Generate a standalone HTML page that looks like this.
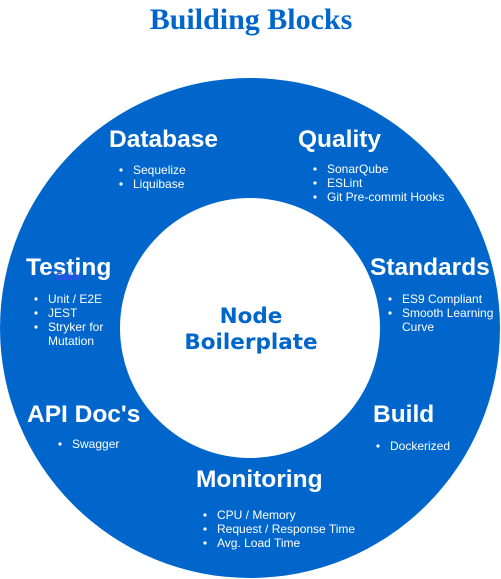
<!DOCTYPE html>
<html><head><meta charset="utf-8"><style>
html,body{margin:0;padding:0;background:#fff;}
svg{display:block;}
.h{font-family:"Liberation Sans",Arial,sans-serif;font-weight:bold;font-size:24.5px;fill:#fff;}
.b{font-family:"Liberation Sans",Arial,sans-serif;font-size:12px;fill:#fff;}
.n{font-family:"DejaVu Sans","Liberation Sans",sans-serif;font-weight:bold;font-size:21.5px;fill:#0066cc;}
</style></head><body>
<svg width="501" height="579" viewBox="0 0 501 579" xmlns="http://www.w3.org/2000/svg">
<text x="251" y="29" text-anchor="middle" font-family="Liberation Serif,serif" font-weight="bold" font-size="30" fill="#0066cc">Building Blocks</text>
<circle cx="250" cy="328" r="250" fill="#0066cc"/>
<circle cx="250" cy="328" r="130" fill="#fff"/>
<text class="h" x="109" y="147">Database</text>
<g class="b"><circle cx="121" cy="170" r="1.6" fill="#fff"/><text x="133" y="174">Sequelize</text>
<circle cx="121" cy="184" r="1.6" fill="#fff"/><text x="133" y="188">Liquibase</text></g>
<text class="h" x="298" y="147">Quality</text>
<g class="b"><circle cx="315" cy="169" r="1.6" fill="#fff"/><text x="327" y="173">SonarQube</text>
<circle cx="315" cy="183" r="1.6" fill="#fff"/><text x="327" y="187">ESLint</text>
<circle cx="315" cy="197" r="1.6" fill="#fff"/><text x="327" y="201">Git Pre-commit Hooks</text></g>
<text class="h" x="26" y="275">Testing</text>
<text x="56" y="280" font-family="Liberation Sans,sans-serif" font-weight="bold" font-size="10" fill="#3a4cf0">Build</text>
<g class="b"><circle cx="36" cy="299" r="1.6" fill="#fff"/><text x="48" y="303">Unit / E2E</text>
<circle cx="36" cy="313" r="1.6" fill="#fff"/><text x="48" y="317">JEST</text>
<circle cx="36" cy="327" r="1.6" fill="#fff"/><text x="48" y="331">Stryker for</text>
<text x="48" y="345">Mutation</text></g>
<text class="h" x="370" y="275">Standards</text>
<g class="b"><circle cx="390" cy="299" r="1.6" fill="#fff"/><text x="402" y="303">ES9 Compliant</text>
<circle cx="390" cy="313" r="1.6" fill="#fff"/><text x="402" y="317">Smooth Learning</text>
<text x="402" y="331">Curve</text></g>
<text class="n" x="251" y="323" text-anchor="middle">Node</text>
<text class="n" x="251" y="349" text-anchor="middle">Boilerplate</text>
<text class="h" x="27" y="422">API Doc's</text>
<g class="b"><circle cx="60" cy="444" r="1.6" fill="#fff"/><text x="72" y="448">Swagger</text></g>
<text class="h" x="373" y="422">Build</text>
<g class="b"><circle cx="378" cy="446" r="1.6" fill="#fff"/><text x="390" y="450">Dockerized</text></g>
<text class="h" x="196" y="487">Monitoring</text>
<g class="b"><circle cx="205" cy="515" r="1.6" fill="#fff"/><text x="217" y="519">CPU / Memory</text>
<circle cx="205" cy="529" r="1.6" fill="#fff"/><text x="217" y="533">Request / Response Time</text>
<circle cx="205" cy="543" r="1.6" fill="#fff"/><text x="217" y="547">Avg. Load Time</text></g>
</svg>
</body></html>
